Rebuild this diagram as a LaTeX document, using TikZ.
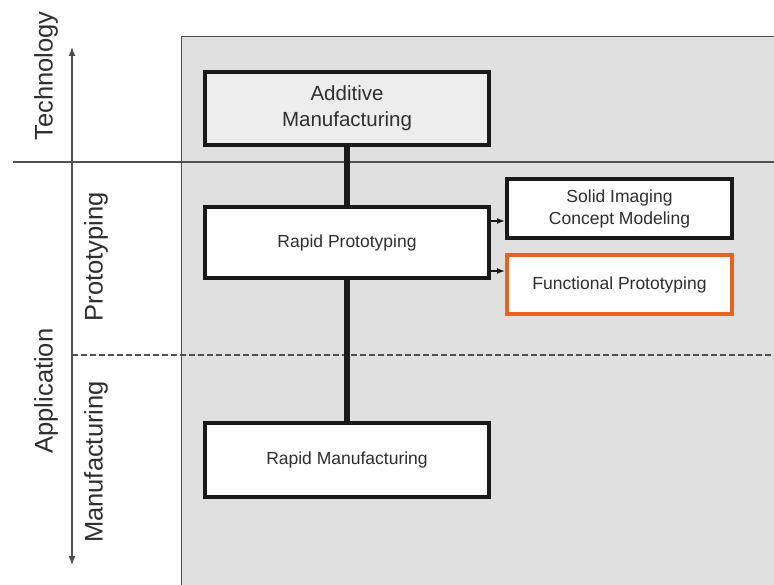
\documentclass[tikz,border=0pt]{standalone}
\usepackage{fontspec}
\setmainfont{Liberation Sans}
\usetikzlibrary{arrows.meta}
\definecolor{boxorange}{HTML}{E8641B}
\definecolor{panelgray}{HTML}{E0E0E0}
\definecolor{amgray}{HTML}{EDEDED}
\definecolor{linegray}{HTML}{505050}
\definecolor{textgray}{HTML}{2E2E2E}

\begin{document}
\begin{tikzpicture}[x=1pt,y=-1pt,
  box/.style={rectangle,draw=black!90,line width=4pt,fill=white,inner sep=0pt,
    align=center,text=textgray,font=\fontsize{17.5}{22}\selectfont},
  sidelabel/.style={rotate=90,inner sep=0pt,text=textgray,font=\fontsize{25.5}{30}\selectfont},
  axis/.style={draw=linegray,line width=1.2pt},
  link/.style={draw=black!90,line width=5.5pt},
  tip/.style={draw=black!90,line width=1.5pt,-{Latex[length=8pt,width=6pt]}}]
\useasboundingbox (0,0) rectangle (774,585);
\fill [panelgray] (181,37) rectangle (774,585);
\draw [linegray,line width=1pt] (181,585) -- (181,37) -- (774,37);
\draw [axis] (13,162) -- (774,162);
\draw [axis,dash pattern=on 6pt off 3pt] (72,355) -- (774,355);
\coordinate (up) at (72,47);
\coordinate (down) at (72,565);
\draw [axis,{Latex[length=9pt,width=7pt]}-{Latex[length=9pt,width=7pt]}] (down) -- (up);
\begin{scope}[every node/.style={sidelabel}]
\node (tech) at (46,76) {Technology};
\node (app) at (46,391) {Application};
\node (proto) at (96,257) {Prototyping};
\node (manu) at (96,462) {Manufacturing};
\end{scope}
\begin{scope}[every node/.style={box}]
\node (am) [minimum width=284,minimum height=73,fill=amgray,
  font=\fontsize{20.5}{26}\selectfont] at (347,108.5) {Additive\\Manufacturing};
\node (rp) [minimum width=284,minimum height=71] at (347,242.5) {Rapid Prototyping};
\node (rm) [minimum width=284,minimum height=74] at (347,460) {Rapid Manufacturing};
\node (si) [minimum width=225,minimum height=59] at (619.5,208.5) {Solid Imaging\\Concept Modeling};
\node (fp) [minimum width=225,minimum height=59,draw=boxorange] at (619.5,284.5) {Functional Prototyping};
\end{scope}
\draw [link] (am) -- (rp);
\draw [link] (rp) -- (rm);
\coordinate (siin) at ([yshift=-12.5pt]si.west);
\coordinate (fpin) at ([yshift=13.5pt]fp.west);
\draw [tip] (siin -| rp.east) -- (siin);
\draw [tip] (fpin -| rp.east) -- (fpin);
\end{tikzpicture}
\end{document}
